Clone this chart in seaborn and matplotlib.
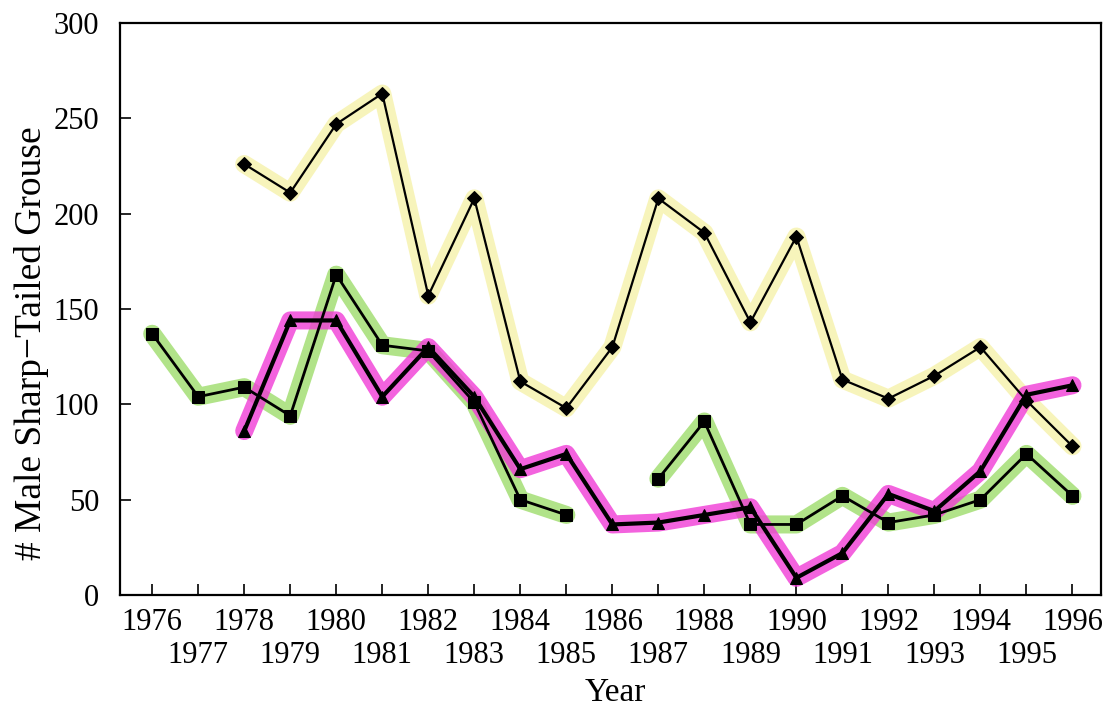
import numpy as np
import pandas as pd
import seaborn as sns
import matplotlib.pyplot as plt

sns.set_theme(style="ticks")
plt.rcParams['font.family'] = ['Liberation Serif', 'DejaVu Serif']

# Counts of male sharp-tailed grouse per year on three leks
years = list(range(1976, 1997))
nan = np.nan
diamond_counts = [nan, nan, 226, 211, 247, 263, 157, 208, 112, 98, 130,
                  208, 190, 143, 188, 113, 103, 115, 130, 102, 78]
square_counts = [137, 104, 109, 94, 168, 131, 128, 101, 50, 42, nan,
                 61, 91, 37, 37, 52, 38, 42, 50, 74, 52]
triangle_counts = [nan, nan, 86, 144, 144, 104, 130, 104, 66, 74, 37,
                   38, 42, 46, 9, 22, 53, 44, 65, 105, 110]

series = {
    "diamond": diamond_counts,
    "square": square_counts,
    "triangle": triangle_counts,
}

# long-form table; a missing year starts a new line segment
rows = []
for name, vals in series.items():
    seg = 0
    for yr, v in zip(years, vals):
        if np.isnan(v):
            seg += 1
            continue
        rows.append(dict(Year=yr, Count=v, Series=name, Segment=f"{name}-{seg}"))
df = pd.DataFrame(rows)

highlight = {
    "diamond": ("#f7f3b4", 0.9),
    "square": ("#a4de74", 0.85),
    "triangle": ("#f03cd6", 0.80),
}
style = {
    "diamond": dict(marker="D", markersize=7, linewidth=1.6),
    "square": dict(marker="s", markersize=8, linewidth=2.0),
    "triangle": dict(marker="^", markersize=8, linewidth=3.0),
}

fig = plt.figure(figsize=(11.07, 7.10), dpi=100)
ax = fig.add_axes([120 / 1107, 1 - 595 / 710, 981 / 1107, 572 / 710])

# highlighter strokes behind each series
for name in ["diamond", "square", "triangle"]:
    sub = df[df.Series == name]
    col, a = highlight[name]
    sns.lineplot(data=sub, x="Year", y="Count", units="Segment", estimator=None,
                 sort=False, color=col, alpha=a, linewidth=13,
                 solid_capstyle="round", solid_joinstyle="round",
                 legend=False, ax=ax)

# black lines with markers
for name in ["diamond", "square", "triangle"]:
    sub = df[df.Series == name]
    st = style[name]
    sns.lineplot(data=sub, x="Year", y="Count", units="Segment", estimator=None,
                 sort=False, color="black", linewidth=st["linewidth"],
                 marker=st["marker"], markersize=st["markersize"],
                 markeredgecolor="black", markerfacecolor="black",
                 legend=False, ax=ax)

ax.set_xlim(1975.3, 1996.62)
ax.set_ylim(0, 300)
ax.set_yticks(range(0, 301, 50))

even = [y for y in years if y % 2 == 0]
odd = [y for y in years if y % 2 == 1]
ax.set_xticks(even)
ax.set_xticklabels([str(y) for y in even])
ax.set_xticks(odd, minor=True)
ax.set_xticklabels([str(y) for y in odd], minor=True)

ax.tick_params(axis="both", which="both", direction="in", length=8, width=1.2,
               labelsize=22, colors="black")
ax.tick_params(axis="x", which="major", pad=9)
ax.tick_params(axis="x", which="minor", pad=33)
ax.tick_params(axis="y", pad=15)

for sp in ax.spines.values():
    sp.set_visible(True)
    sp.set_linewidth(1.6)
    sp.set_color("black")

ax.set_xlabel("Year", fontsize=24, color="black")
ax.set_ylabel("# Male Sharp\u2212Tailed Grouse", fontsize=27, color="black")
ax.xaxis.set_label_coords(0.505, -0.145)
ax.yaxis.set_label_coords(-0.09, 0.44)
ax.yaxis.label.set_va("center")
ax.xaxis.label.set_va("top")

fig.savefig("out.png", dpi=100)
